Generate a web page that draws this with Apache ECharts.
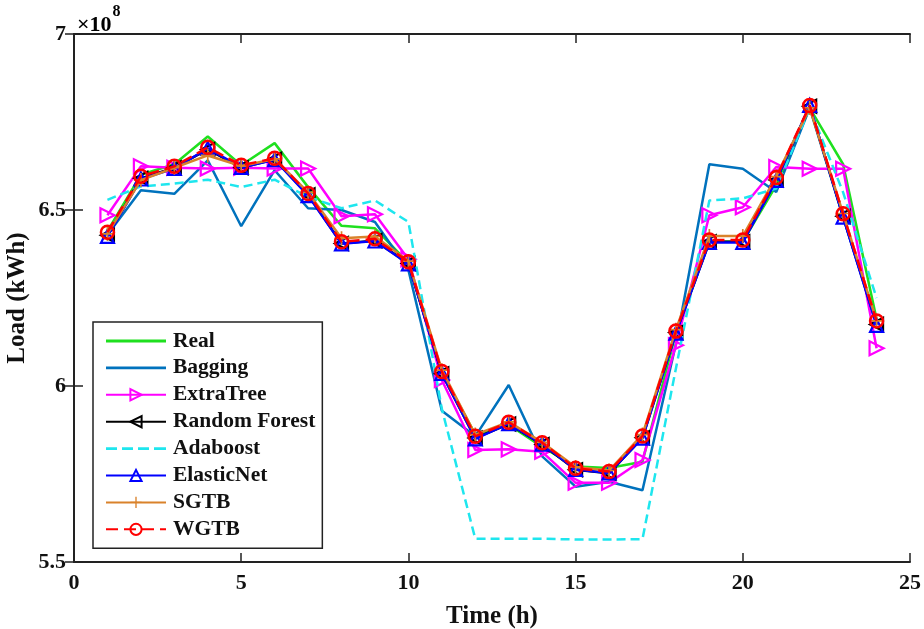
<!DOCTYPE html>
<html>
<head>
<meta charset="utf-8">
<script src="https://cdn.jsdelivr.net/npm/echarts@6/dist/echarts.min.js"></script>
<style>
html,body{margin:0;padding:0;background:#fff;}
#chart{width:924px;height:629px;}
</style>
</head>
<body>
<div id="chart"></div>
<script>
// Hours (x) and loads in units of 1e8 kWh
var hours = [1,2,3,4,5,6,7,8,9,10,11,12,13,14,15,16,17,18,19,20,21,22,23,24];
var xTicks = [0,5,10,15,20,25];
var yTicks = [5.5,6,6.5,7];

var real       = [6.44,6.60,6.63,6.709,6.627,6.69,6.565,6.455,6.448,6.35,6.04,5.862,5.89,5.827,5.771,5.767,5.785,6.15,6.41,6.41,6.57,6.79,6.63,6.19];
var bagging    = [6.43,6.556,6.546,6.641,6.454,6.613,6.505,6.500,6.466,6.33,5.93,5.857,6.003,5.80,5.714,5.728,5.704,6.12,6.630,6.617,6.551,6.79,6.48,6.18];
var extraTree  = [6.485,6.624,6.62,6.618,6.62,6.618,6.618,6.482,6.488,6.36,6.017,5.818,5.82,5.813,5.725,5.725,5.79,6.116,6.485,6.508,6.622,6.617,6.617,6.107];
var randForest = [6.428,6.59,6.62,6.672,6.62,6.644,6.543,6.405,6.413,6.348,6.035,5.852,5.892,5.834,5.762,5.752,5.853,6.152,6.41,6.41,6.585,6.795,6.482,6.175];
var adaboost   = [6.529,6.567,6.575,6.586,6.565,6.586,6.537,6.505,6.527,6.466,5.935,5.566,5.566,5.566,5.564,5.564,5.565,6.05,6.527,6.533,6.561,6.79,6.55,6.25];
var elasticNet = [6.425,6.588,6.618,6.675,6.621,6.643,6.541,6.404,6.412,6.347,6.036,5.85,5.893,5.835,5.763,5.753,5.852,6.15,6.408,6.408,6.584,6.797,6.48,6.172];
var sgtb       = [6.432,6.585,6.62,6.655,6.625,6.645,6.55,6.42,6.425,6.355,6.045,5.862,5.898,5.84,5.77,5.76,5.862,6.16,6.426,6.426,6.595,6.79,6.49,6.185];
var wgtb       = [6.437,6.596,6.624,6.678,6.627,6.647,6.547,6.410,6.418,6.353,6.041,5.857,5.897,5.839,5.766,5.757,5.858,6.156,6.415,6.415,6.592,6.797,6.489,6.185];

var seriesNames = ['Real','Bagging','ExtraTree','Random Forest','Adaboost','ElasticNet','SGTB','WGTB'];

function pairs(arr){ return hours.map(function(h,i){ return [h, arr[i]]; }); }

var serif = '"Liberation Serif","Times New Roman",serif';
var plusPath = 'path://M-0.12,-1 L0.12,-1 L0.12,-0.12 L1,-0.12 L1,0.12 L0.12,0.12 L0.12,1 L-0.12,1 L-0.12,0.12 L-1,0.12 L-1,-0.12 L-0.12,-0.12 Z';
// legend icons for plain lines (box 60 x 14)
var solidIcon = 'path://M0,0 L60,0 L60,0.01 Z M0,5.6 L60,5.6 L60,8.4 L0,8.4 Z M0,13.99 L60,13.99 L60,14 Z';
var dashIcon  = 'path://M0,0 L60,0 L60,0.01 Z M0,5.6 L11,5.6 L11,8.4 L0,8.4 Z M16,5.6 L27,5.6 L27,8.4 L16,8.4 Z M32,5.6 L43,5.6 L43,8.4 L32,8.4 Z M48,5.6 L60,5.6 L60,8.4 L48,8.4 Z M0,13.99 L60,13.99 L60,14 Z';
var clear = 'rgba(255,255,255,0)';

function mk(name, data, color, opts){
  return {
    name: name, type: 'line', data: pairs(data),
    xAxisIndex: 0, yAxisIndex: 0,
    lineStyle: {color: color, width: 2.5, type: opts.dash || 'solid'},
    itemStyle: {color: opts.fill || color, borderColor: color, borderWidth: opts.bw || 0},
    symbol: opts.symbol || 'none',
    symbolSize: opts.size || 12,
    symbolRotate: opts.rot || 0,
    showSymbol: !!opts.symbol,
    emphasis: {disabled: true},
    animation: false,
    z: opts.z || 2
  };
}

var chart = echarts.init(document.getElementById('chart'), null, {renderer: 'canvas'});
var axisLineStyle = {color: '#222', width: 2};
var tickStyle = {show: true, inside: true, length: 9, lineStyle: {color: '#222', width: 1.5}};
var option = {
  backgroundColor: '#fff',
  animation: false,
  grid: {left: 74, right: 14, top: 34, bottom: 67, containLabel: false, outerBoundsMode: 'none'},
  legend: {
    orient: 'vertical',
    left: 93, top: 322,
    itemWidth: 60, itemHeight: 14, itemGap: 4.9,
    padding: [8, 7, 8, 12],
    borderColor: '#222', borderWidth: 1.5,
    backgroundColor: '#fff',
    textStyle: {fontFamily: serif, fontWeight: 'bold', fontSize: 21.5, lineHeight: 22, color: '#111', padding: [0,0,0,2]},
    data: [
      {name: 'Real', icon: solidIcon},
      {name: 'Bagging', icon: solidIcon},
      {name: 'ExtraTree'},
      {name: 'Random Forest'},
      {name: 'Adaboost', icon: dashIcon},
      {name: 'ElasticNet'},
      {name: 'SGTB'},
      {name: 'WGTB'}
    ]
  },
  xAxis: [{
    type: 'value', min: 0, max: 25, interval: 5,
    name: 'Time (h)', nameLocation: 'middle', nameGap: 42, nameMoveOverlap: false,
    nameTextStyle: {fontFamily: serif, fontWeight: 'bold', fontSize: 25, color: '#111'},
    axisLine: {show: true, lineStyle: axisLineStyle},
    axisTick: tickStyle,
    axisLabel: {fontFamily: serif, fontWeight: 'bold', fontSize: 22, color: '#111', margin: 10},
    splitLine: {show: false}
  },{
    type: 'value', min: 0, max: 25, interval: 5, position: 'top',
    axisLine: {show: true, lineStyle: axisLineStyle},
    axisTick: tickStyle,
    axisLabel: {show: false}, splitLine: {show: false}
  }],
  yAxis: [{
    type: 'value', min: 5.5, max: 7, interval: 0.5,
    name: 'Load (kWh)', nameLocation: 'middle', nameGap: 44, nameMoveOverlap: false,
    nameTextStyle: {fontFamily: serif, fontWeight: 'bold', fontSize: 25, color: '#111'},
    axisLine: {show: true, lineStyle: axisLineStyle},
    axisTick: tickStyle,
    axisLabel: {fontFamily: serif, fontWeight: 'bold', fontSize: 22, color: '#111', margin: 8,
      formatter: function(v){ return String(v); }},
    splitLine: {show: false}
  },{
    type: 'value', min: 5.5, max: 7, interval: 0.5, position: 'right',
    axisLine: {show: true, lineStyle: axisLineStyle},
    axisTick: tickStyle,
    axisLabel: {show: false}, splitLine: {show: false}
  }],
  graphic: [{
    type: 'text', left: 77, top: 4,
    style: {
      text: '{a|×10}{b|8}',
      rich: {
        a: {fontFamily: serif, fontWeight: 'bold', fontSize: 22, color: '#111', verticalAlign: 'bottom', padding: [10,0,0,0]},
        b: {fontFamily: serif, fontWeight: 'bold', fontSize: 16, color: '#111', verticalAlign: 'top', padding: [0,0,12,1]}
      }
    }
  }],
  series: [
    mk('Real', real, '#1fe01f', {z: 2}),
    mk('Bagging', bagging, '#0072BD', {z: 3}),
    mk('ExtraTree', extraTree, '#FF00FF', {symbol: 'triangle', rot: -90, size: 14, fill: clear, bw: 2.2, z: 4}),
    mk('Random Forest', randForest, '#000000', {symbol: 'triangle', rot: 90, size: 13, fill: clear, bw: 2.2, z: 5}),
    mk('Adaboost', adaboost, '#1ee6ee', {dash: [9, 5], z: 6}),
    mk('ElasticNet', elasticNet, '#0000FF', {symbol: 'triangle', size: 13, fill: clear, bw: 2.2, z: 7}),
    mk('SGTB', sgtb, '#d9822b', {symbol: plusPath, size: 14, z: 8}),
    mk('WGTB', wgtb, '#FF0000', {dash: [12, 6], symbol: 'circle', size: 13, fill: clear, bw: 2.5, z: 9})
  ]
};
chart.setOption(option);
</script>
</body>
</html>
